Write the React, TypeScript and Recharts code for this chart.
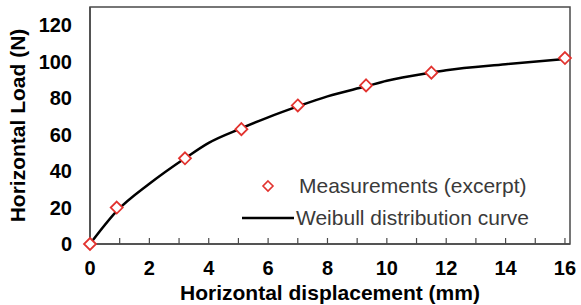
import { ComposedChart, Line, Scatter, XAxis, YAxis, ReferenceArea, Label } from 'recharts';

const measuredX = [0, 0.9, 3.2, 5.1, 7.0, 9.3, 11.5, 16];
const measuredY = [0, 20, 47, 63, 76, 87, 94, 102];

const curveX = [0, 0.9, 2, 3.2, 4, 5.1, 6, 7, 8, 9.3, 10, 11.5, 12, 14, 16];
const curveY = [0, 18, 33, 47, 55.5, 63.5, 69.5, 75.5, 81, 86.5, 89.5, 94, 95.3, 98.6, 101.5];

const xTicks = [0, 1, 2, 3, 4, 5, 6, 7, 8, 9, 10, 11, 12, 13, 14, 15, 16];
const yTicks = [0, 20, 40, 60, 80, 100, 120];

const measurements = measuredX.map((x, i) => ({ x, y: measuredY[i] }));
const curve = curveX.map((x, i) => ({ x, y: curveY[i] }));

const RED = '#e2332f';
const FRAME = '#4a4a4a';
const FONT = 'Liberation Sans, Arial, sans-serif';

const Diamond = (props: any) => {
  const { cx, cy } = props;
  const r = 6;
  return (
    <polygon
      points={`${cx},${cy - r} ${cx + r},${cy} ${cx},${cy + r} ${cx - r},${cy}`}
      fill="#fff"
      stroke={RED}
      strokeWidth={1.8}
    />
  );
};

const LegendBox = () => (
  <div
    style={{
      position: 'absolute',
      left: 242,
      top: 170,
      fontFamily: FONT,
      fontSize: 21,
      color: '#3a3a3a',
      lineHeight: '32px',
      whiteSpace: 'nowrap',
    }}
  >
    <div style={{ display: 'flex', alignItems: 'center' }}>
      <svg width={54} height={32}>
        <polygon points="26,11 31,16 26,21 21,16" fill="#fff" stroke={RED} strokeWidth={1.6} />
      </svg>
      <span style={{ marginLeft: 3 }}>Measurements (excerpt)</span>
    </div>
    <div style={{ display: 'flex', alignItems: 'center' }}>
      <svg width={54} height={32}>
        <line x1={0} y1={16} x2={52} y2={16} stroke="#000" strokeWidth={2.5} />
      </svg>
      <span>Weibull distribution curve</span>
    </div>
  </div>
);

export default function App() {
  return (
    <div style={{ position: 'absolute', left: 0, top: 0, width: 581, height: 305 }}>
      <ComposedChart width={581} height={305} margin={{ top: 7, right: 11, bottom: 0, left: 0 }}>
        <XAxis
          type="number"
          dataKey="x"
          domain={[0, 16.17]}
          ticks={xTicks}
          interval={0}
          tickFormatter={(v: number) => (v % 2 === 0 ? String(v) : '')}
          tickSize={-6}
          tickMargin={23}
          height={61}
          axisLine={{ stroke: FRAME, strokeWidth: 1.5 }}
          tickLine={{ stroke: FRAME, strokeWidth: 1.2 }}
          tick={{ fill: '#000', fontSize: 20, fontWeight: 'bold', fontFamily: FONT }}
        >
          <Label
            content={(p: any) => {
              const vb = p.viewBox;
              return (
                <text x={vb.x + vb.width / 2} y={vb.y + 48} textAnchor="middle" dominantBaseline="central"
                  style={{ fontSize: 21, fontWeight: 'bold', fontFamily: FONT, fill: '#000' }}>
                  Horizontal displacement (mm)
                </text>
              );
            }}
          />
        </XAxis>
        <YAxis
          type="number"
          domain={[0, 130]}
          ticks={yTicks}
          interval={0}
          width={90}
          tickLine={false}
          tickSize={6}
          tickMargin={12}
          axisLine={{ stroke: FRAME, strokeWidth: 1.5 }}
          tick={{ fill: '#000', fontSize: 20, fontWeight: 'bold', fontFamily: FONT }}
        >
          <Label
            content={(p: any) => {
              const vb = p.viewBox;
              const cx = 17;
              const cy = vb.y + vb.height / 2;
              return (
                <text x={cx} y={cy} transform={`rotate(-90 ${cx} ${cy})`} textAnchor="middle" dominantBaseline="central"
                  style={{ fontSize: 21, fontWeight: 'bold', fontFamily: FONT, fill: '#000' }}>
                  Horizontal Load (N)
                </text>
              );
            }}
          />
        </YAxis>
        <ReferenceArea x1={0} x2={16.17} y1={0} y2={130} fill="none" stroke={FRAME} strokeWidth={1.5} ifOverflow="visible" />
        <Line
          data={curve}
          dataKey="y"
          type="monotone"
          stroke="#000"
          strokeWidth={2.5}
          dot={false}
          activeDot={false}
          isAnimationActive={false}
        />
        <Scatter data={measurements} dataKey="y" shape={<Diamond />} isAnimationActive={false} />
      </ComposedChart>
      <LegendBox />
    </div>
  );
}
